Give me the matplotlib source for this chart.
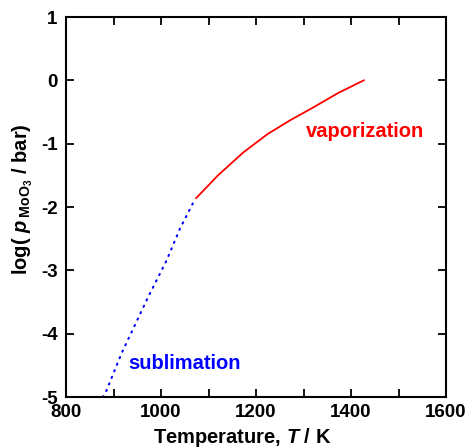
import matplotlib
matplotlib.use("Agg")
import matplotlib.pyplot as plt

plt.rcParams['font.family'] = ['Liberation Sans', 'DejaVu Sans']
plt.rcParams['font.weight'] = 'bold'
plt.rcParams['axes.unicode_minus'] = False
plt.rcParams['mathtext.fontset'] = 'custom'
plt.rcParams['mathtext.rm'] = 'Liberation Sans:bold'
plt.rcParams['mathtext.it'] = 'Liberation Sans:bold:italic'
plt.rcParams['mathtext.bf'] = 'Liberation Sans:bold'

# Data
vap_T = [1074, 1120, 1173, 1224, 1272, 1320, 1373, 1427]
vap_logp = [-1.86, -1.50, -1.14, -0.85, -0.63, -0.43, -0.20, 0.0]
sub_T = [870, 884, 917, 973, 1012, 1040, 1070]
sub_logp = [-5.1, -4.92, -4.31, -3.42, -2.84, -2.34, -1.90]

xticks = [800, 1000, 1200, 1400, 1600]
yticks = [-5, -4, -3, -2, -1, 0, 1]

fig = plt.figure(figsize=(4.73, 4.48), dpi=100)
ax = fig.add_axes([66/473, 1 - 397/448, (446-66)/473, (397-17)/448])

ax.plot(sub_T, sub_logp, color='#0000ff', lw=1.5, linestyle=(0, (0.6, 2.8)), dash_capstyle='round')
ax.plot(vap_T, vap_logp, color='#ff0000', lw=1.3)

ax.set_xlim(800, 1600)
ax.set_ylim(-5, 1)
ax.set_xticks(xticks)
ax.set_xticks(range(800, 1601, 100), minor=True)
ax.set_yticks(yticks)
ax.tick_params(which='both', direction='in', top=True, right=True, length=6, width=1.3,
               labelsize=13.5)
ax.tick_params(axis='x', pad=5)
ax.tick_params(axis='y', pad=6)
for s in ax.spines.values():
    s.set_linewidth(1.5)

ax.text(128, 448 - 363, 'sublimation', color='#0000ff', fontsize=14.5, fontweight='bold',
        transform=None, va='center', ha='left')
ax.text(306, 448 - 131, 'vaporization', color='#ff0000', fontsize=14.5, fontweight='bold',
        transform=None, va='center', ha='left')

ax.set_xlabel(r'Temperature, $T$ / K', fontsize=14.5, fontweight='bold')
ax.xaxis.set_label_coords(0.463, -0.077)
ax.set_ylabel(r'log( $p\,_{\mathrm{MoO_3}}$ / bar)', fontsize=14.5, fontweight='bold')
ax.yaxis.set_label_coords(-0.082, 0.521)

fig.savefig('out.png', dpi=100)
